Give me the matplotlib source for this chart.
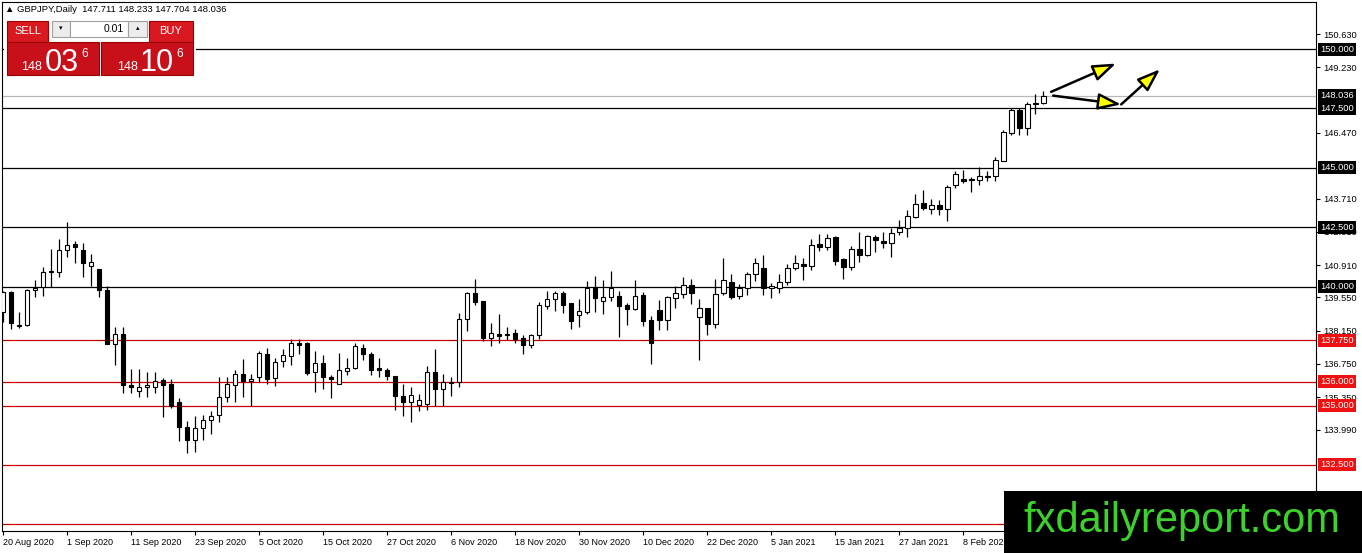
import numpy as np
import matplotlib.pyplot as plt
from matplotlib.patches import Rectangle
from matplotlib.transforms import blended_transform_factory

W, H = 1362, 553

# daily GBPJPY candles (20 Aug 2020 -> 19 Feb 2021)
opens = [138.95, 139.76, 138.40, 138.38, 139.85, 139.97, 140.60, 140.61, 141.53, 141.78,
         141.53, 140.88, 140.73, 139.85, 137.58, 138.00, 135.85, 135.60, 135.77, 135.77,
         136.06, 135.90, 135.14, 134.09, 133.54, 134.04, 134.38, 134.59, 135.35, 135.85,
         136.31, 136.02, 136.20, 137.15, 136.14, 136.86, 137.07, 137.65, 137.61, 136.39,
         136.77, 136.20, 135.89, 136.44, 136.56, 137.44, 137.15, 136.59, 136.48, 136.23,
         135.42, 135.15, 135.02, 135.05, 136.43, 135.71, 136.00, 135.97, 138.66, 139.72,
         139.38, 137.84, 138.00, 137.97, 138.04, 137.83, 137.56, 137.97, 139.18, 139.50,
         139.72, 139.30, 138.82, 138.93, 140.00, 139.40, 139.58, 139.62, 139.21, 139.07,
         139.65, 138.58, 139.00, 138.60, 139.54, 139.71, 140.08, 138.74, 139.12, 138.43,
         139.75, 140.21, 139.60, 139.93, 140.55, 140.80, 139.93, 139.96, 140.21, 140.79,
         140.96, 140.89, 141.79, 141.67, 142.08, 141.17, 140.82, 141.58, 141.33, 142.10,
         141.92, 141.83, 142.29, 142.46, 142.94, 143.54, 143.29, 143.42, 143.29, 144.29,
         144.55, 144.55, 144.49, 144.62, 144.67, 145.28, 146.45, 147.42, 146.66, 147.74,
         147.711]
highs = [139.82, 139.82, 138.95, 139.90, 140.27, 140.82, 141.57, 142.00, 142.71, 141.91,
         141.83, 141.36, 140.73, 140.04, 138.29, 138.29, 136.53, 136.53, 136.43, 136.40,
         136.15, 136.10, 135.30, 134.34, 134.55, 134.59, 134.76, 136.19, 136.19, 136.48,
         136.94, 136.31, 137.29, 137.40, 136.98, 137.36, 137.79, 137.79, 137.68, 137.29,
         137.11, 136.28, 137.19, 136.98, 137.65, 137.57, 137.26, 137.02, 136.56, 136.23,
         135.89, 135.78, 135.49, 136.67, 137.37, 136.31, 136.22, 138.91, 139.77, 140.31,
         139.40, 138.49, 138.84, 138.32, 138.21, 137.95, 138.00, 139.35, 139.83, 139.83,
         139.82, 139.30, 139.47, 140.24, 140.45, 140.27, 140.68, 139.84, 139.33, 140.29,
         139.79, 138.76, 139.42, 139.62, 140.03, 140.42, 140.31, 139.50, 139.12, 140.31,
         141.19, 140.55, 140.13, 140.63, 141.19, 141.33, 140.15, 140.54, 140.96, 141.35,
         141.21, 142.00, 142.21, 142.21, 142.12, 141.21, 141.72, 142.29, 142.18, 142.18,
         142.29, 142.46, 142.79, 143.21, 143.88, 144.07, 143.71, 143.63, 144.29, 144.88,
         144.93, 144.60, 145.02, 144.85, 145.45, 146.60, 147.53, 147.53, 147.78, 148.12,
         148.233]
lows = [138.52, 138.21, 138.25, 138.35, 139.58, 139.62, 139.97, 140.42, 141.26, 140.98,
        140.42, 140.04, 139.56, 137.58, 136.69, 135.52, 135.52, 135.35, 135.35, 135.52,
        134.50, 134.88, 133.50, 133.00, 133.05, 133.54, 133.79, 134.30, 135.14, 135.14,
        135.35, 134.99, 136.00, 135.89, 135.83, 136.60, 136.70, 137.15, 136.28, 135.58,
        135.71, 135.33, 135.89, 136.27, 136.53, 136.90, 136.28, 136.20, 136.06, 134.82,
        134.57, 134.32, 134.78, 134.80, 135.00, 135.00, 135.40, 135.76, 138.13, 139.21,
        137.71, 137.50, 137.65, 137.76, 137.62, 137.18, 137.42, 137.79, 139.05, 138.97,
        138.91, 138.21, 138.32, 138.84, 138.95, 138.84, 139.40, 137.90, 138.40, 139.03,
        138.33, 136.73, 138.19, 138.19, 139.09, 139.54, 139.26, 136.90, 137.97, 138.27,
        139.67, 139.47, 139.47, 139.67, 140.24, 139.65, 139.54, 139.75, 140.07, 140.71,
        140.29, 140.71, 141.50, 141.54, 140.92, 140.33, 140.71, 141.04, 141.29, 141.46,
        141.62, 141.25, 142.18, 142.11, 142.88, 143.23, 143.07, 143.01, 142.78, 144.15,
        144.37, 143.99, 144.29, 144.46, 144.43, 145.28, 146.40, 146.37, 146.40, 147.28,
        147.704]
closes = [139.76, 138.46, 138.33, 139.85, 139.96, 140.61, 140.65, 141.53, 141.74, 141.68,
          140.98, 141.03, 139.85, 137.58, 138.00, 135.85, 135.77, 135.77, 135.85, 136.02,
          135.85, 135.00, 134.09, 133.54, 134.04, 134.38, 134.55, 135.35, 135.90, 136.31,
          136.02, 136.11, 137.19, 136.10, 136.84, 137.11, 137.61, 137.55, 136.36, 136.77,
          136.18, 136.10, 136.48, 136.56, 137.49, 137.15, 136.48, 136.48, 136.23, 135.41,
          135.15, 135.45, 135.25, 136.40, 135.71, 136.00, 135.95, 138.66, 139.72, 139.35,
          137.84, 138.04, 137.93, 137.99, 137.82, 137.56, 137.95, 139.21, 139.50, 139.72,
          139.23, 138.55, 138.96, 139.96, 139.52, 139.58, 139.93, 139.20, 139.07, 139.62,
          138.55, 137.62, 138.60, 139.55, 139.75, 140.08, 139.73, 139.12, 138.43, 139.71,
          140.29, 139.58, 139.93, 140.55, 141.00, 139.96, 140.03, 140.21, 140.79, 141.00,
          140.89, 141.75, 141.67, 142.04, 141.08, 140.82, 141.58, 141.33, 142.12, 141.96,
          141.83, 142.25, 142.46, 142.96, 143.50, 143.32, 143.42, 143.25, 144.21, 144.76,
          144.46, 144.50, 144.66, 144.65, 145.34, 146.52, 147.42, 146.66, 147.70, 147.70,
          148.036]

date_labels = ['20 Aug 2020', '1 Sep 2020', '11 Sep 2020', '23 Sep 2020', '5 Oct 2020',
               '15 Oct 2020', '27 Oct 2020', '6 Nov 2020', '18 Nov 2020', '30 Nov 2020',
               '10 Dec 2020', '22 Dec 2020', '5 Jan 2021', '15 Jan 2021', '27 Jan 2021',
               '8 Feb 2021']
date_idx = [0, 8, 16, 24, 32, 40, 48, 56, 64, 72, 80, 88, 96, 104, 112, 120]

# scale ticks that are not hidden behind a price tag
price_ticks = [150.63, 149.23, 146.47, 143.71, 142.31, 140.91, 139.55,
               138.15, 136.75, 135.35, 133.99]
black_levels = [150.0, 147.5, 145.0, 142.5, 140.0]
red_levels = [137.75, 136.0, 135.0, 132.5, 130.0]
bid = 148.036

# hand drawn arrows (candle index, price)
arrow_a = [(131.0, 148.20), (139.1, 149.39)]
arrow_b = [(131.25, 148.04), (139.75, 147.67)]
arrow_c = [(139.75, 147.67), (144.6, 149.15)]

FONT = ['Liberation Sans', 'DejaVu Sans']
plt.rcParams['font.family'] = FONT

fig = plt.figure(figsize=(W / 100, H / 100), dpi=100)
ax = fig.add_axes([2 / W, (H - 531) / H, (1316 - 2) / W, (531 - 2) / H])

x = np.arange(len(opens))
o = np.array(opens); c = np.array(closes)
up = c >= o

ax.vlines(x, lows, highs, color='black', lw=0.9, zorder=3)
bottom = np.minimum(o, c)
height = np.maximum(np.abs(c - o), 0.02)
ax.bar(x, height, bottom=bottom, width=0.6,
       color=np.where(up, 'white', 'black'), edgecolor='black', lw=0.8, zorder=4)

for lv in black_levels:
    ax.axhline(lv, color='black', lw=0.9, zorder=2)
for lv in red_levels:
    ax.axhline(lv, color='#cc0000', lw=0.9, zorder=2)
ax.axhline(bid, color='#b8b8b8', lw=0.9, zorder=1)

for pts in (arrow_a, arrow_b, arrow_c):
    ax.annotate('', xy=pts[1], xytext=pts[0],
                arrowprops=dict(arrowstyle='-|>,head_length=1.4,head_width=0.5',
                                fc='#ffff00', ec='black', lw=1.8, mutation_scale=10,
                                shrinkA=0, shrinkB=0), zorder=6)

ax.set_xlim(-0.125, 164.1)
ax.set_ylim(129.72, 151.98)

ax.yaxis.tick_right()
ax.set_yticks(price_ticks)
ax.set_yticklabels(['%.3f' % t for t in price_ticks])
ax.set_xticks(date_idx)
ax.set_xticklabels(date_labels, ha='left')
ax.tick_params(axis='y', length=3, width=0.8, pad=2, labelsize=6.7)
ax.tick_params(axis='x', length=3, width=0.8, pad=2, labelsize=6.5)
for s in ax.spines.values():
    s.set_linewidth(0.8)
    s.set_color('black')

# price tags on the right scale
tr = blended_transform_factory(ax.transAxes, ax.transData)
tags = black_levels + [bid] + red_levels[:-1]
tag_cols = ['black'] * (len(black_levels) + 1) + ['#ee1111'] * (len(red_levels) - 1)
for lv, col in zip(tags, tag_cols):
    ax.text(1.0 + 4 / 1314, lv, '%.3f' % lv, transform=tr, ha='left', va='center',
            fontsize=6.7, color='white', clip_on=False, zorder=7,
            bbox=dict(boxstyle='square,pad=0.22', fc=col, ec='none'))


def fx(px):
    return px / W


def fy(py):
    return 1 - py / H


def box(x0, y0, x1, y1, fc, ec):
    fig.patches.append(Rectangle((fx(x0), fy(y1)), fx(x1 - x0), (y1 - y0) / H,
                                 transform=fig.transFigure, fc=fc, ec=ec, lw=0.8, zorder=10))


# header + one-click trading panel
fig.text(fx(5), fy(9), '\u25b2 GBPJPY,Daily  147.711 148.233 147.704 148.036',
         fontsize=6.8, va='center', ha='left', family=FONT)
box(4, 19, 196, 77, 'white', 'none')
box(7, 21, 48, 42, '#d91820', '#9a0000')
box(149, 21, 193, 42, '#d91820', '#9a0000')
box(7, 42, 99, 75, '#c8101a', '#9a0000')
box(101, 42, 193, 75, '#c8101a', '#9a0000')
box(52, 21, 70, 37, '#ececec', '#a0a0a0')
box(70, 21, 128, 37, 'white', '#a0a0a0')
box(128, 21, 147, 37, '#ececec', '#a0a0a0')
fig.text(fx(27.5), fy(31), 'SELL', color='white', fontsize=8, ha='center', va='center', zorder=11)
fig.text(fx(171), fy(31), 'BUY', color='white', fontsize=8, ha='center', va='center', zorder=11)
fig.text(fx(124), fy(29), '0.01', color='black', fontsize=7.5, ha='right', va='center', zorder=11)
fig.text(fx(61), fy(29), '\u25be', color='black', fontsize=5, ha='center', va='center', zorder=11, family=FONT)
fig.text(fx(137.5), fy(29), '\u25b4', color='black', fontsize=5, ha='center', va='center', zorder=11, family=FONT)
for x0, small, big, sup in ((32, '148', '03', '6'), (127, '148', '10', '6')):
    fig.text(fx(x0), fy(70), small, color='white', fontsize=9, ha='center', va='baseline', zorder=11)
    fig.text(fx(x0 + 30), fy(71), big, color='white', fontsize=22, ha='center', va='baseline', zorder=11)
    fig.text(fx(x0 + 53), fy(57), sup, color='white', fontsize=8.5, ha='center', va='baseline', zorder=11)

# watermark logo
box(1004, 491, 1362, 553, 'black', 'none')
fig.text(fx(1182), fy(521), 'fxdailyreport.com', color='#3cd12c', fontsize=30,
         ha='center', va='center', zorder=11)

fig.savefig('out.png', dpi=100)
